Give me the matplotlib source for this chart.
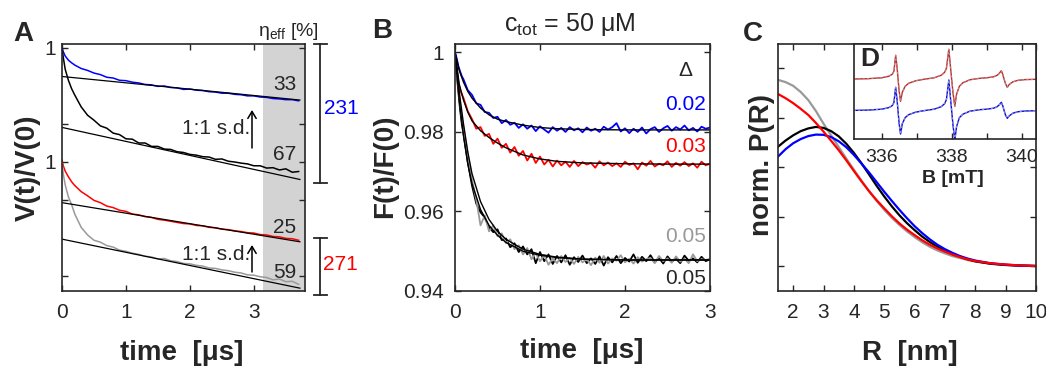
import numpy as np
import matplotlib
matplotlib.use('Agg')
import matplotlib.pyplot as plt
from matplotlib.lines import Line2D

plt.rcParams['font.family'] = ['Liberation Sans', 'DejaVu Sans']
plt.rcParams['mathtext.fontset'] = 'custom'
plt.rcParams['mathtext.rm'] = 'Liberation Sans'
plt.rcParams['mathtext.it'] = 'Liberation Sans:italic'

DARK = '#262626'
GRAY = '#999999'

# ---- panel A: DEER traces (upper pair starts at 1, lower pair offset to 0.7)
tA = [0, .02, .05, .1, .15, .2, .3, .4, .5, .6, .7, .8, .9, 1.0, 1.1, 1.2, 1.3, 1.4,
      1.5, 1.6, 1.7, 1.8, 1.9, 2.0, 2.1, 2.2, 2.3, 2.4, 2.5, 2.6, 2.7, 2.8, 2.9, 3.0,
      3.1, 3.2, 3.3, 3.4, 3.5, 3.6, 3.7]
vA_blue = [1.0, .990, .979, .968, .961, .955, .946, .941, .934, .930, .923, .921, .915,
           .914, .910, .908, .904, .903, .899, .900, .896, .895, .891, .892, .889, .888,
           .885, .884, .881, .881, .878, .877, .874, .874, .871, .870, .867, .866, .864,
           .864, .861]
vA_black = [1.0, .975, .944, .915, .893, .876, .845, .823, .810, .795, .789, .776, .772,
            .761, .760, .750, .750, .741, .741, .734, .733, .727, .725, .720, .718, .714,
            .713, .707, .708, .702, .700, .697, .695, .690, .690, .684, .685, .679, .682,
            .673, .675]
vA_red = [.705, .690, .676, .661, .648, .638, .622, .611, .599, .593, .584, .580, .573,
          .570, .563, .561, .556, .554, .549, .547, .544, .541, .538, .537, .533, .532,
          .528, .527, .523, .522, .519, .517, .514, .513, .509, .508, .504, .503, .499,
          .498, .494]
vA_gray = [.700, .668, .640, .608, .588, .563, .528, .508, .494, .489, .480, .476, .468,
           .465, .460, .457, .452, .450, .445, .446, .440, .438, .433, .432, .428, .426,
           .421, .420, .416, .414, .410, .408, .403, .402, .398, .396, .390, .392, .385,
           .386, .378]
# background fits (straight lines): start / end values
tA_fit = [0, 3.72]
fitA_blue = [0.925, 0.863]
fitA_black = [0.791, 0.654]
fitA_red = [0.593, 0.490]
fitA_gray = [0.497, 0.368]
etaA = ['33', '67', '25', '59']

# ---- panel B: fluorescence traces
tB = [0, .02, .04, .06, .08, .10, .15, .20, .25, .30, .35, .40, .45, .50, .55, .60, .65,
      .70, .75, .80, .85, .90, .95, 1.00, 1.05, 1.10, 1.15, 1.20, 1.25, 1.30, 1.35, 1.40,
      1.45, 1.50, 1.55, 1.60, 1.65, 1.70, 1.75, 1.80, 1.85, 1.90, 1.95, 2.00, 2.05, 2.10,
      2.15, 2.20, 2.25, 2.30, 2.35, 2.40, 2.45, 2.50, 2.55, 2.60, 2.65, 2.70, 2.75, 2.80,
      2.85, 2.90, 2.95, 3.00]
fB_blue = [1.0, .9985, .9965, .9952, .9940, .9932, .9905, .9893, .9872, .9868, .9850,
           .9848, .9835, .9838, .9822, .9830, .9818, .9823, .9810, .9819, .9808, .9816,
           .9802, .9814, .9806, .9798, .9812, .9803, .9810, .9800, .9812, .9804, .9809,
           .9799, .9811, .9803, .9808, .9800, .9813, .9806, .9812, .9822, .9801, .9809,
           .9797, .9808, .9800, .9811, .9796, .9807, .9812, .9800, .9809, .9815, .9803,
           .9812, .9806, .9816, .9804, .9810, .9801, .9813, .9808, .9811]
fB_red = [1.0, .9960, .9925, .9905, .9895, .9885, .9852, .9832, .9808, .9812, .9790,
          .9795, .9770, .9783, .9760, .9770, .9748, .9762, .9740, .9752, .9728, .9745,
          .9722, .9738, .9718, .9730, .9713, .9728, .9716, .9725, .9712, .9727, .9714,
          .9724, .9718, .9722, .9710, .9726, .9716, .9723, .9714, .9721, .9712, .9725,
          .9717, .9721, .9706, .9723, .9715, .9727, .9713, .9720, .9716, .9726, .9712,
          .9722, .9715, .9724, .9714, .9721, .9710, .9725, .9716, .9720]
fB_black = [1.0, .9945, .9900, .9855, .9820, .9795, .9725, .9665, .9620, .9598, .9585,
            .9560, .9548, .9555, .9528, .9532, .9510, .9520, .9498, .9512, .9492, .9505,
            .9470, .9498, .9475, .9492, .9468, .9488, .9472, .9490, .9466, .9485, .9473,
            .9489, .9470, .9482, .9468, .9487, .9464, .9485, .9472, .9488, .9470, .9483,
            .9474, .9492, .9471, .9486, .9475, .9490, .9472, .9483, .9469, .9487, .9474,
            .9481, .9470, .9489, .9476, .9482, .9472, .9486, .9475, .9480]
fB_gray = [1.0, .9950, .9912, .9870, .9835, .9810, .9745, .9680, .9630, .9565, .9590,
           .9550, .9565, .9538, .9545, .9520, .9530, .9505, .9515, .9492, .9508, .9480,
           .9495, .9475, .9490, .9466, .9482, .9470, .9488, .9473, .9483, .9468, .9486,
           .9472, .9480, .9465, .9484, .9471, .9488, .9469, .9482, .9476, .9490, .9472,
           .9481, .9469, .9485, .9474, .9480, .9483, .9470, .9488, .9475, .9482, .9471,
           .9487, .9474, .9481, .9470, .9492, .9475, .9480, .9478, .9481]
tB_fit = [0, .05, .1, .15, .2, .3, .4, .5, .6, .8, 1.0, 1.2, 1.5, 2.0, 2.5, 3.0]
fitB_blue = [1.0, .9955, .9925, .9902, .9885, .9860, .9843, .9832, .9826, .9817, .9811,
             .9808, .9806, .9805, .9805, .9805]
fitB_red = [1.0, .9920, .9880, .9850, .9828, .9803, .9786, .9772, .9760, .9742, .9732,
            .9726, .9722, .9720, .9719, .9719]
fitB_black = [1.0, .9880, .9790, .9720, .9670, .9605, .9565, .9540, .9522, .9500, .9490,
              .9484, .9480, .9478, .9478, .9478]
fitB_gray = [1.0, .9900, .9820, .9750, .9695, .9625, .9580, .9550, .9530, .9505, .9492,
             .9485, .9480, .9478, .9478, .9478]
deltaB = ['0.02', '0.03', '0.05', '0.05']

# ---- panel C: distance distributions
R = [1.5, 1.75, 2.0, 2.25, 2.5, 2.75, 3.0, 3.25, 3.5, 3.75, 4.0, 4.25, 4.5, 4.75, 5.0,
     5.25, 5.5, 5.75, 6.0, 6.25, 6.5, 6.75, 7.0, 7.25, 7.5, 7.75, 8.0, 8.5, 9.0, 9.5, 10.0]
P_gray = [.752, .743, .728, .703, .670, .626, .575, .528, .481, .434, .389, .345, .303,
          .263, .227, .195, .166, .140, .117, .096, .078, .063, .051, .040, .032, .024,
          .018, .010, .005, .002, .0]
P_red = [.695, .678, .658, .635, .610, .578, .543, .506, .468, .427, .384, .342, .302,
         .266, .233, .201, .172, .147, .125, .104, .086, .071, .058, .046, .036, .027,
         .020, .011, .006, .002, .0]
P_black = [.482, .507, .528, .545, .556, .562, .558, .545, .524, .494, .457, .415, .370,
           .324, .281, .241, .205, .173, .145, .119, .097, .078, .062, .048, .037, .027,
           .019, .009, .004, .001, .0]
P_blue = [.442, .472, .496, .513, .525, .531, .530, .521, .504, .480, .449, .414, .378,
          .339, .300, .263, .227, .193, .161, .133, .108, .086, .068, .053, .040, .030,
          .022, .011, .005, .002, .0]

# ---- panel D: cw EPR spectra
B_field = [335.2, 335.6, 336.0, 336.2, 336.3, 336.35, 336.40, 336.44, 336.47, 336.50,
           336.54, 336.59, 336.67, 336.77, 336.97, 337.2, 337.5, 337.7, 337.8, 337.85,
           337.92, 337.96, 338.0, 338.04, 338.09, 338.14, 338.22, 338.32, 338.52, 338.8,
           339.0, 339.2, 339.3, 339.35, 339.42, 339.46, 339.5, 339.54, 339.59, 339.65,
           339.75, 339.9, 340.1, 340.4]
epr_red = [0.3, 0.6, 1.5, 3, 5, 8, 24, 12, 0, -12, -22, -13, -7, -4, -1.5, 0, 1.5, 4, 7,
           11, 30, 15, 0, -14, -27, -15, -7, -3.5, -0.5, 1, 1.5, 2.5, 4, 5.5, 8.6, 5, 0,
           -4.5, -8, -5, -2.5, -1, -0.3, 0]
epr_blue = [0.3, 0.6, 1.5, 3, 5, 8, 23.4, 11, -1, -13, -23.3, -13, -7, -4, -1.5, 0, 1.5,
            4, 7, 11, 30.7, 15, 0, -15, -29.5, -16, -7, -3.5, -0.5, 1, 1.5, 2.5, 4, 5.5,
            8.4, 5, 0, -4.5, -7.6, -5, -2.5, -1, -0.3, 0]

W, H = 1046, 367
fig = plt.figure(figsize=(W / 100, H / 100), dpi=100)


def fx(x):
    return x / W


def fy(y):
    return 1 - y / H


def ftext(x, y, s, **kw):
    kw.setdefault('ha', 'center')
    kw.setdefault('va', 'center')
    kw.setdefault('color', DARK)
    fig.text(fx(x), fy(y), s, **kw)


def style(ax):
    for sp in ax.spines.values():
        sp.set_color(DARK)
        sp.set_linewidth(1.2)
    ax.tick_params(direction='in', top=True, right=True, length=4, width=1.0,
                   colors=DARK, labelsize=15)
    ax.tick_params(axis='x', pad=9)
    ax.tick_params(axis='y', pad=8)


def box(x0, x1, y0, y1):
    return [fx(x0), fy(y1), fx(x1) - fx(x0), fy(y0) - fy(y1)]


# ---------------- A
axA = fig.add_axes(box(62, 305, 44, 291))
style(axA)
axA.axvspan(3.14, 3.8, color='#d3d3d3', lw=0, zorder=0)
axA.plot(tA, vA_blue, color='blue', lw=1.1)
axA.plot(tA, vA_black, color='black', lw=1.1)
axA.plot(tA, vA_red, color='red', lw=1.1)
axA.plot(tA, vA_gray, color=GRAY, lw=1.1)
for f in (fitA_blue, fitA_black, fitA_red, fitA_gray):
    axA.plot(tA_fit, f, color='black', lw=0.9)
axA.set_xlim(0, 3.8)
axA.set_ylim(0.3605, 1.0105)
axA.set_xticks([0, 1, 2, 3])
axA.set_yticks([0.4, 0.6, 0.7, 0.8, 1.0])
axA.set_yticklabels(['', '', '1', '', '1'])
axA.tick_params(axis='y', pad=4)

for s, y in zip(etaA, [85, 155, 228, 272]):
    ftext(285, y, s, fontsize=15)
ftext(216, 128, '1:1 s.d.', fontsize=15)
ftext(216, 255, '1:1 s.d.', fontsize=15)
for y0, y1 in [(148, 110), (272, 245)]:
    fig.add_artist(matplotlib.patches.FancyArrowPatch(
        (fx(252), fy(y0)), (fx(252), fy(y1)), transform=fig.transFigure,
        arrowstyle='->,head_length=5,head_width=3', color='black', lw=1.1,
        shrinkA=0, shrinkB=0))
ftext(288, 32, 'η$_{\\mathrm{eff}}$ [%]', fontsize=14)

# brackets
for y0, y1 in [(44, 183), (238, 295)]:
    fig.add_artist(Line2D([fx(320), fx(320)], [fy(y0), fy(y1)], color=DARK, lw=1.3))
    for y in (y0, y1):
        fig.add_artist(Line2D([fx(314), fx(327)], [fy(y), fy(y)], color=DARK, lw=1.3))
ftext(341, 108, '231', fontsize=15, color='blue')
ftext(340, 265, '271', fontsize=15, color='red')

ftext(23, 34, 'A', fontsize=20, fontweight='bold')
ftext(28, 168, 'V(t)/V(0)', fontsize=20, fontweight='bold', rotation=90)
ftext(182, 353, 'time  [μs]', fontsize=20, fontweight='bold')

# ---------------- B
axB = fig.add_axes(box(455, 710, 44, 291))
style(axB)
axB.plot(tB, fB_black, color='black', lw=1.3)
axB.plot(tB, fB_gray, color=GRAY, lw=1.3)
axB.plot(tB, fB_red, color='red', lw=1.3)
axB.plot(tB, fB_blue, color='blue', lw=1.3)
for f in (fitB_blue, fitB_red, fitB_black, fitB_gray):
    axB.plot(tB_fit, f, color='black', lw=1.0)
axB.set_xlim(0, 3)
axB.set_ylim(0.94, 1.0021)
axB.set_xticks([0, 1, 2, 3])
axB.set_yticks([0.94, 0.96, 0.98, 1.0])
axB.set_yticklabels(['0.94', '0.96', '0.98', '1'])

ftext(685, 70, 'Δ', fontsize=15)
for s, y, c in zip(deltaB, [105, 147, 237, 279], ['blue', 'red', GRAY, DARK]):
    ftext(686, y, s, fontsize=15, color=c)
ftext(570, 25, 'c$_{\\mathrm{tot}}$ = 50 μM', fontsize=18)
ftext(382, 31, 'B', fontsize=20, fontweight='bold')
ftext(385, 166, 'F(t)/F(0)', fontsize=20, fontweight='bold', rotation=90)
ftext(582, 351, 'time  [μs]', fontsize=20, fontweight='bold')

# ---------------- C
axC = fig.add_axes(box(778, 1036, 44, 291))
style(axC)
axC.plot(R, P_gray, color=GRAY, lw=1.6)
axC.plot(R, P_black, color='black', lw=1.6)
axC.plot(R, P_blue, color='blue', lw=1.6)
axC.plot(R, P_red, color='red', lw=1.6)
axC.set_xlim(1.5, 10)
axC.set_ylim(-0.101, 0.897)
axC.set_xticks(range(2, 11))
axC.set_yticks([0, 0.2, 0.4, 0.6, 0.8])
axC.set_yticklabels([])
ftext(753, 34, 'C', fontsize=20, fontweight='bold')
ftext(762, 165, 'norm. P(R)', fontsize=20, fontweight='bold', rotation=90)
ftext(910, 353, 'R  [nm]', fontsize=20, fontweight='bold')

# ---------------- D (inset)
axD = fig.add_axes(box(854, 1036, 44, 139))
style(axD)
axD.tick_params(left=False, right=False, labelsize=14)
axD.tick_params(axis='x', pad=7)
blue_offset = -31.4
axD.plot(B_field, epr_red, color='#d02020', lw=1.0)
axD.plot(B_field, epr_red, color=GRAY, lw=0.8, ls=(0, (2, 2)))
axD.plot(B_field, [v + blue_offset for v in epr_blue], color='blue', lw=1.0)
axD.plot(B_field, [v + blue_offset for v in epr_blue], color=GRAY, lw=0.8, ls=(0, (2, 2)))
axD.set_xlim(335.21, 340.41)
axD.set_ylim(-59.7, 35.3)
axD.set_xticks([336, 337, 338, 339, 340])
axD.set_xticklabels(['336', '', '338', '', '340'])
axD.set_yticks([])
ftext(870, 59, 'D', fontsize=19, fontweight='bold')
ftext(953, 178, 'B [mT]', fontsize=14, fontweight='bold')

fig.savefig('out.png', dpi=100)
